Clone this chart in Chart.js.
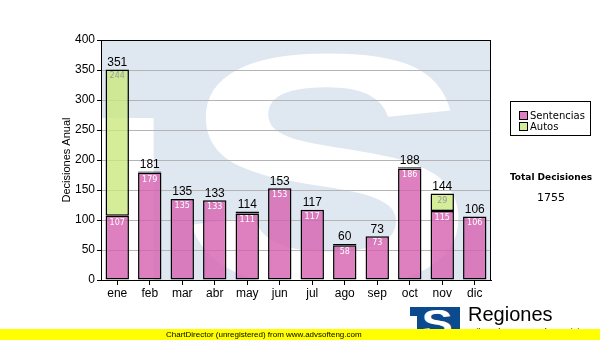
<!DOCTYPE html>
<html>
<head>
<meta charset="utf-8">
<script src="https://cdn.jsdelivr.net/npm/chart.js@4/dist/chart.umd.min.js"></script>
<style>
  html, body { margin: 0; padding: 0; background: #fff; }
  #wrap { position: relative; width: 600px; height: 340px; overflow: hidden; font-family: "DejaVu Sans", Verdana, sans-serif; }
  #chart { position: absolute; left: 0; top: 0; }
  .legend { position: absolute; left: 510px; top: 101px; width: 81px; height: 35px; border: 1px solid #000; box-sizing: border-box; font-size: 10px; }
  .legend div { position: absolute; left: 8px; height: 10px; line-height: 10px; white-space: nowrap; }
  .legend span { display: inline-block; width: 7px; height: 7px; border: 1px solid #000; margin-right: 2px; vertical-align: -1px; }
  .total { position: absolute; left: 501px; width: 100px; text-align: center; font-size: 9px; }
  .logo { position: absolute; left: 410px; top: 307px; width: 50px; height: 30px; background: #0b4a8d; overflow: hidden; }
  .logo b { position: absolute; left: 15px; top: -4px; color: #fff; font: bold 36px "Liberation Sans", Arial, sans-serif; transform: scaleX(1.3); }
  .logo i { position: absolute; left: 0; top: 9px; width: 7px; height: 30px; background: #fff; }
  .brand { position: absolute; left: 468px; top: 303px; font: 20px "Liberation Sans", Arial, sans-serif; color: #000; }
  .sub { position: absolute; left: 468px; top: 327px; font: 9px "Liberation Sans", Arial, sans-serif; color: #000; white-space: nowrap; }
  .footer { position: absolute; left: 0; top: 329px; width: 600px; height: 11px; background: #ffff00; }
  .footer span { position: absolute; left: 166px; top: 0; font: 8px "Liberation Sans", Arial, sans-serif; line-height: 11px; color: #000; white-space: nowrap; }
</style>
</head>
<body>
<div id="wrap">
  <canvas id="chart" width="600" height="340"></canvas>
  <div class="legend">
    <div style="top:9px"><span style="background:#dd80c0"></span>Sentencias</div>
    <div style="top:20px"><span style="background:#d4ec98"></span>Autos</div>
  </div>
  <div class="total" style="top:172px; font-weight:bold">Total Decisiones</div>
  <div class="total" style="top:191px; font-size:11px" id="totalValue"></div>
  <div class="logo"><i></i><b>S</b></div>
  <div class="brand">Regiones</div>
  <div class="sub">Tribunal Supremo de Justicia</div>
  <div class="footer"><span>ChartDirector (unregistered) from www.advsofteng.com</span></div>
</div>
<script>
// monthly decisions, split by type
const months     = ['ene', 'feb', 'mar', 'abr', 'may', 'jun', 'jul', 'ago', 'sep', 'oct', 'nov', 'dic'];
const sentencias = [107, 179, 135, 133, 111, 153, 117, 58, 73, 186, 115, 106];
const autos      = [244, 2, 0, 0, 3, 0, 0, 2, 0, 2, 29, 0];
const yTicks     = [0, 50, 100, 150, 200, 250, 300, 350, 400];

const totals = months.map((m, i) => sentencias[i] + autos[i]);
document.getElementById('totalValue').innerText = totals.reduce((s, v) => s + v, 0);

const PINK  = 'rgba(214,96,176,0.8)';
const GREEN = 'rgba(202,231,128,0.8)';

// big pale "S" logo behind the plot
const watermark = {
    id: 'watermark',
    beforeDraw(chart) {
        const { ctx, chartArea: a } = chart;
        const w = a.right - a.left, h = a.bottom - a.top;
        ctx.save();
        ctx.beginPath();
        ctx.rect(a.left, a.top, w, h);
        ctx.clip();
        ctx.fillStyle = '#dfe8f1';
        ctx.fillRect(a.left, a.top, w, h);
        ctx.fillStyle = '#fff';
        ctx.fillRect(a.left, a.top + h * 0.325, w * 0.135, h);
        ctx.translate(a.left + w * 0.58, a.bottom + 4);
        ctx.scale(1.35, 1);
        ctx.font = 'bold 330px "Liberation Sans"';
        ctx.textAlign = 'center';
        ctx.textBaseline = 'alphabetic';
        ctx.fillText('S', 0, 0);
        ctx.restore();
    },
};

// black frame on top/right of plot, axis title, value labels
const decorations = {
    id: 'decorations',
    afterDraw(chart) {
        const { ctx, chartArea: a } = chart;
        const y = chart.scales.y;
        ctx.save();
        ctx.strokeStyle = '#000';
        ctx.lineWidth = 1;
        ctx.strokeRect(a.left + 0.5, a.top + 0.5, a.right - a.left - 1, a.bottom - a.top);

        ctx.translate(67, (a.top + a.bottom) / 2);
        ctx.rotate(-Math.PI / 2);
        ctx.font = '11px "Liberation Sans", Arial';
        ctx.fillStyle = '#000';
        ctx.textAlign = 'center';
        ctx.textBaseline = 'middle';
        ctx.fillText('Decisiones Anual', 0, 0);
        ctx.restore();

        const m0 = chart.getDatasetMeta(0).data;
        const m1 = chart.getDatasetMeta(1).data;
        ctx.save();
        ctx.textAlign = 'center';
        months.forEach((m, i) => {
            const x = m0[i].x;
            ctx.font = '12px "Liberation Sans", Arial';
            ctx.fillStyle = '#000';
            ctx.textBaseline = 'bottom';
            ctx.fillText(totals[i], x, y.getPixelForValue(totals[i]) - 1);

            ctx.font = '8px "DejaVu Sans"';
            ctx.textBaseline = 'top';
            ctx.fillStyle = '#fff';
            ctx.fillText(sentencias[i], x, y.getPixelForValue(sentencias[i]) + 3);
            if (autos[i] >= 20) {
                ctx.fillStyle = '#9a9a9a';
                ctx.fillText(autos[i], x, m1[i].y + 3);
            }
        });
        ctx.restore();
    },
};

new Chart(document.getElementById('chart'), {
    type: 'bar',
    data: {
        labels: months,
        datasets: [
            { label: 'Sentencias', data: sentencias, backgroundColor: PINK },
            { label: 'Autos', data: autos, backgroundColor: GREEN },
        ],
    },
    options: {
        responsive: false,
        animation: false,
        layout: { padding: { left: 58, right: 109, top: 40, bottom: 0 } },
        datasets: {
            bar: {
                borderColor: '#000', borderWidth: 1.5, borderSkipped: false,
                barPercentage: 0.72, categoryPercentage: 1,
            },
        },
        plugins: { legend: { display: false }, tooltip: { enabled: false } },
        scales: {
            x: {
                stacked: true,
                afterFit: s => { s.height = 60; },
                grid: { drawOnChartArea: false, offset: false, tickLength: 5, tickColor: '#000' },
                border: { color: '#000' },
                ticks: { color: '#000', font: { family: '"Liberation Sans", Arial', size: 12 }, padding: 1 },
            },
            y: {
                stacked: true,
                min: 0, max: 400,
                afterFit: s => { s.width = 43; },
                afterBuildTicks: s => { s.ticks = yTicks.map(v => ({ value: v })); },
                grid: { color: '#b4b4b4', tickLength: 4, tickColor: '#000' },
                border: { color: '#000' },
                ticks: { color: '#000', font: { family: '"Liberation Sans", Arial', size: 12 }, padding: 2 },
            },
        },
    },
    plugins: [watermark, decorations],
});
</script>
</body>
</html>
